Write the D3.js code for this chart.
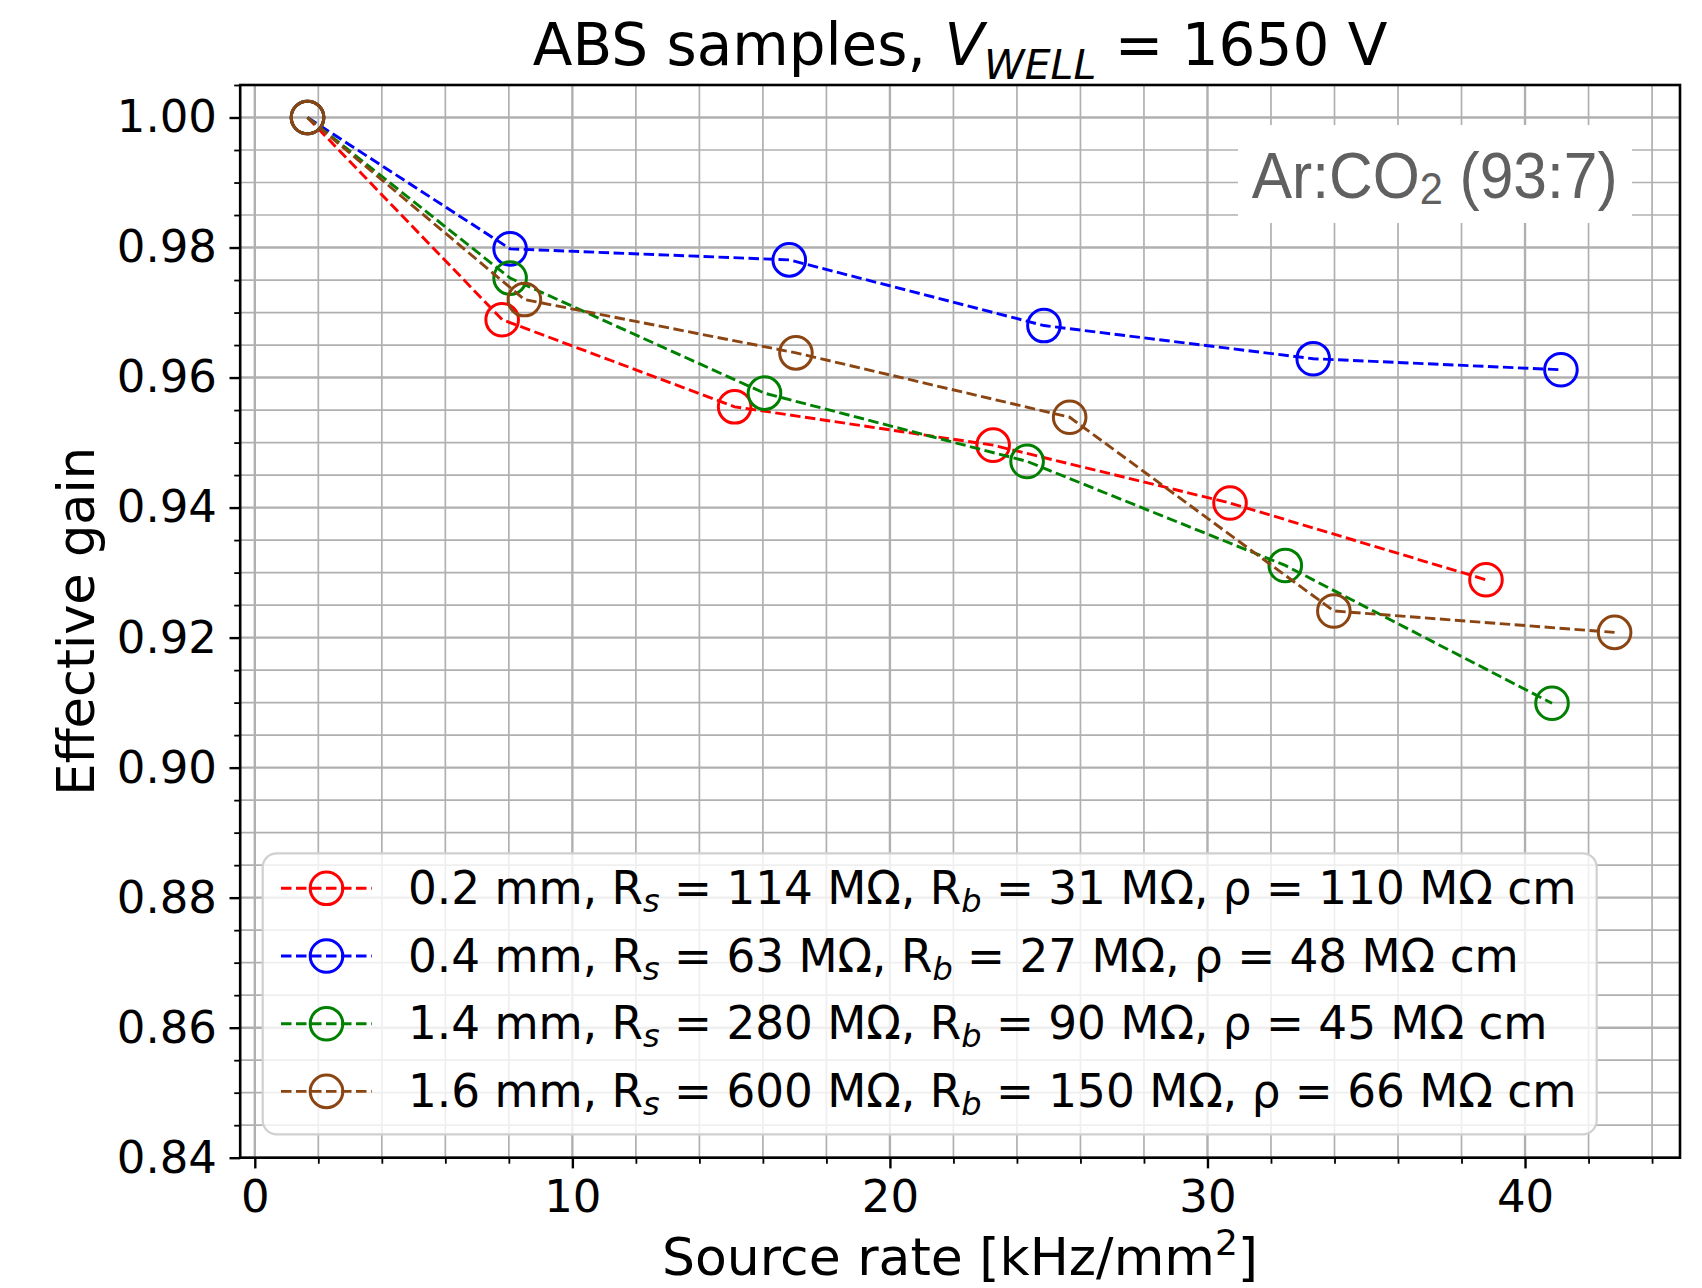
<!DOCTYPE html>
<html>
<head>
<meta charset="utf-8">
<script src="https://cdn.jsdelivr.net/npm/d3@7"></script>
<style>
  html, body { margin: 0; padding: 0; background: #ffffff; }
  svg { display: block; }
  text { font-family: "DejaVu Sans", sans-serif; }
</style>
</head>
<body>
<svg id="chart" width="1702" height="1288"></svg>
<script>
// ---------------- data ----------------
const seriesNames = ["red", "blue", "green", "brown"];
const seriesColors = ["#ff0000", "#0000ff", "#008000", "#8b4513"];

const xRed   = [1.66, 7.79, 15.11, 23.25, 30.71, 38.77];
const yRed   = [1.000, 0.9689, 0.9555, 0.9496, 0.9407, 0.9289];
const xBlue  = [1.66, 8.04, 16.83, 24.85, 33.33, 41.13];
const yBlue  = [1.000, 0.9798, 0.9781, 0.9680, 0.9629, 0.9612];
const xGreen = [1.66, 8.04, 16.05, 24.32, 32.45, 40.85];
const yGreen = [1.000, 0.9753, 0.9576, 0.9471, 0.9311, 0.9099];
const xBrown = [1.66, 8.49, 17.04, 25.66, 33.98, 42.82];
const yBrown = [1.000, 0.9720, 0.9638, 0.9539, 0.9241, 0.9208];

const thickness = ["0.2", "0.4", "1.4", "1.6"];
const Rs  = [114, 63, 280, 600];
const Rb  = [31, 27, 90, 150];
const rho = [110, 48, 45, 66];

const xMajorTicks = [0, 10, 20, 30, 40];
const xMinorTicks = [0, 2, 4, 6, 8, 10, 12, 14, 16, 18, 20, 22, 24, 26, 28, 30, 32, 34, 36, 38, 40, 42, 44];
const yMajorTicks = [0.84, 0.86, 0.88, 0.90, 0.92, 0.94, 0.96, 0.98, 1.00];
const yMinorTicks = d3.range(0, 34).map(i => +(0.84 + i * 0.005).toFixed(3));

const xDomain = [-0.46, 44.88];
const yDomain = [0.84, 1.005];

// ---------------- layout ----------------
const L = 240.2, R = 1680, T = 85, B = 1157.7;
const svg = d3.select("#chart");

const x = d3.scaleLinear().domain(xDomain).range([L, R]);
const y = d3.scaleLinear().domain(yDomain).range([B, T]);

// grid
const grid = svg.append("g");
grid.selectAll("line.vx").data(xMinorTicks).enter().append("line")
  .attr("x1", d => x(d)).attr("x2", d => x(d)).attr("y1", T).attr("y2", B)
  .attr("stroke", "#b0b0b0")
  .attr("stroke-width", d => xMajorTicks.includes(d) ? 2.4 : 1.7);
grid.selectAll("line.hy").data(yMinorTicks).enter().append("line")
  .attr("y1", d => y(d)).attr("y2", d => y(d)).attr("x1", L).attr("x2", R)
  .attr("stroke", "#b0b0b0")
  .attr("stroke-width", d => yMajorTicks.some(t => Math.abs(t - d) < 1e-6) ? 2.4 : 1.7);

// annotation box
const annX = 1238, annY = 125, annW = 394, annH = 98;
svg.append("rect").attr("x", annX).attr("y", annY).attr("width", annW).attr("height", annH)
  .attr("fill", "#ffffff");
const ann = svg.append("text")
  .attr("x", 0).attr("y", 0)
  .attr("transform", `translate(1251.7,198.3) scale(0.945,1)`)
  .style("font-family", "'Liberation Sans', Arial, sans-serif")
  .style("font-size", "64px")
  .attr("fill", "#606060");
ann.append("tspan").text("Ar:CO");
ann.append("tspan").text("2").style("font-size", "44px").attr("dy", 6);
ann.append("tspan").text(" (93:7)").attr("dy", -6);

// series
const seriesX = [xRed, xBlue, xGreen, xBrown];
const seriesY = [yRed, yBlue, yGreen, yBrown];
const line = d3.line().x(d => x(d[0])).y(d => y(d[1]));
const plot = svg.append("g");
seriesNames.forEach((name, i) => {
  const pts = seriesX[i].map((v, j) => [v, seriesY[i][j]]);
  const g = plot.append("g").attr("class", "series-" + name);
  g.append("path").datum(pts).attr("d", line)
    .attr("fill", "none").attr("stroke", seriesColors[i])
    .attr("stroke-width", 2.9).attr("stroke-dasharray", "10.5,4.5");
  g.selectAll("circle").data(pts).enter().append("circle")
    .attr("cx", d => x(d[0])).attr("cy", d => y(d[1])).attr("r", 16.3)
    .attr("fill", "none").attr("stroke", seriesColors[i]).attr("stroke-width", 3);
});

// axes
const fmt = d3.format(".2f");
const axLeft = svg.append("g").attr("transform", `translate(${L},0)`)
  .call(d3.axisLeft(y).tickValues(yMajorTicks).tickFormat(fmt).tickSize(10.7).tickPadding(12.5));
const axLeftMinor = svg.append("g").attr("transform", `translate(${L},0)`)
  .call(d3.axisLeft(y).tickValues(yMinorTicks.filter(d => !yMajorTicks.some(t => Math.abs(t - d) < 1e-6))).tickFormat("").tickSize(6));
const axBottom = svg.append("g").attr("transform", `translate(0,${B})`)
  .call(d3.axisBottom(x).tickValues(xMajorTicks).tickFormat(d3.format("d")).tickSize(10.7).tickPadding(12));
const axBottomMinor = svg.append("g").attr("transform", `translate(0,${B})`)
  .call(d3.axisBottom(x).tickValues(xMinorTicks.filter(d => !xMajorTicks.includes(d))).tickFormat("").tickSize(6));
[axLeft, axLeftMinor, axBottom, axBottomMinor].forEach(a => {
  a.select(".domain").remove();
  a.selectAll("line").attr("stroke", "#000").attr("stroke-width", 2.4);
  a.selectAll("text").style("font-family", "'DejaVu Sans', sans-serif").style("font-size", "45px").attr("fill", "#000");
});
axLeftMinor.selectAll("line").attr("stroke-width", 1.8);
axBottomMinor.selectAll("line").attr("stroke-width", 1.8);

// frame
svg.append("rect").attr("x", L).attr("y", T).attr("width", R - L).attr("height", B - T)
  .attr("fill", "none").attr("stroke", "#000").attr("stroke-width", 2.6);

// legend
const lg = svg.append("g");
const lgX = 262.7, lgY = 853.3, lgW = 1334, lgH = 281;
lg.append("rect").attr("x", lgX).attr("y", lgY).attr("width", lgW).attr("height", lgH)
  .attr("rx", 14).attr("ry", 14)
  .attr("fill", "#ffffff").attr("fill-opacity", 0.8)
  .attr("stroke", "#d0d0d0").attr("stroke-width", 2.2);
const rowY0 = 888.3, rowStep = 67.7;
seriesNames.forEach((name, i) => {
  const cy = rowY0 + i * rowStep;
  lg.append("line").attr("x1", 281).attr("x2", 371.7).attr("y1", cy).attr("y2", cy)
    .attr("stroke", seriesColors[i]).attr("stroke-width", 2.9).attr("stroke-dasharray", "10.5,4.5");
  lg.append("circle").attr("cx", 326.5).attr("cy", cy).attr("r", 16.3)
    .attr("fill", "none").attr("stroke", seriesColors[i]).attr("stroke-width", 3);
  const t = lg.append("text").attr("x", 408).attr("y", cy + 15.5)
    .style("font-size", "45.3px").attr("fill", "#000");
  t.append("tspan").text(`${thickness[i]} mm, R`);
  t.append("tspan").text("s").style("font-style", "italic").style("font-size", "32px").attr("dy", 8);
  t.append("tspan").text(` = ${Rs[i]} MΩ, R`).attr("dy", -8);
  t.append("tspan").text("b").style("font-style", "italic").style("font-size", "32px").attr("dy", 8);
  t.append("tspan").text(` = ${Rb[i]} MΩ, ρ = ${rho[i]} MΩ cm`).attr("dy", -8);
});

// title
const title = svg.append("text").attr("x", (L + R) / 2).attr("y", 65)
  .attr("text-anchor", "middle").style("font-size", "58px").attr("fill", "#000");
title.append("tspan").text("ABS samples, ");
title.append("tspan").text("V").style("font-style", "italic");
title.append("tspan").text("WELL").style("font-style", "italic").style("font-size", "41px").attr("dy", 14);
title.append("tspan").text(" = 1650 V").attr("dy", -14);

// axis labels
const xl = svg.append("text").attr("x", (L + R) / 2).attr("y", 1275)
  .attr("text-anchor", "middle").style("font-size", "52px").attr("fill", "#000");
xl.append("tspan").text("Source rate [kHz/mm");
xl.append("tspan").text("2").style("font-size", "36px").attr("dy", -20);
xl.append("tspan").text("]").attr("dy", 20);

svg.append("text").attr("transform", `translate(94,${(T + B) / 2}) rotate(-90)`)
  .attr("text-anchor", "middle").style("font-size", "51px").attr("fill", "#000")
  .text("Effective gain");
</script>
</body>
</html>
